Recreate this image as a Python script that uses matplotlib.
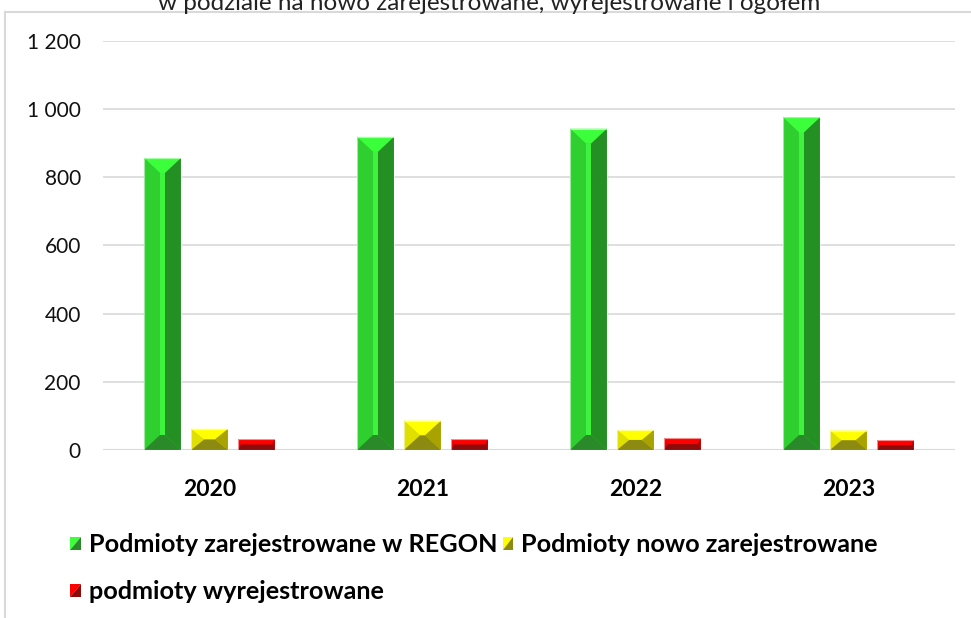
import numpy as np
import matplotlib
matplotlib.use("Agg")
import matplotlib.pyplot as plt
from matplotlib.patches import Polygon, Rectangle
from matplotlib.lines import Line2D
from matplotlib.legend_handler import HandlerBase
from matplotlib.ticker import FuncFormatter, MultipleLocator

# data
years = ["2020", "2021", "2022", "2023"]
regon = [856, 918, 942, 975]
nowe = [62, 86, 59, 57]
wyrej = [32, 32, 34, 29]

series_names = ["Podmioty zarejestrowane w REGON", "Podmioty nowo zarejestrowane",
                "podmioty wyrejestrowane"]
title = "w podziale na nowo zarejestrowane, wyrejestrowane i ogółem"

# bevel colours: top, left, right, bottom, inner
shades = [
    ("#3cff3c", "#2ecf2e", "#249024", "#2a8a2a", "#3ef23e"),
    ("#ffff00", "#e0e000", "#a9a300", "#8c8a10", "#c8c800"),
    ("#ff0000", "#e80000", "#b40000", "#8c0c0c", "#d00000"),
]

plt.rcParams["font.family"] = ["Lato", "DejaVu Sans"]

W, H = 971, 618
fig = plt.figure(figsize=(W / 100, H / 100), dpi=100)
ax = fig.add_axes([103 / W, 1 - 450 / H, 852 / W, 409.3 / H])

x = np.arange(len(years))
step = 47 / 213
bw = 37 / 213
groups = []
for i, vals in enumerate([regon, nowe, wyrej]):
    bars = ax.bar(x + (i - 1) * step, vals, width=bw, color=shades[i][1],
                  edgecolor="none", zorder=2)
    groups.append(bars)

ax.set_xlim(-0.5, len(years) - 0.5)
ax.set_ylim(0, 1200)
ax.yaxis.set_major_locator(MultipleLocator(200))
ax.yaxis.set_major_formatter(FuncFormatter(lambda v, p: f"{int(v):,}".replace(",", " ")))
ax.grid(axis="y", color="#d9d9d9", linewidth=1.2, zorder=0)
ax.set_axisbelow(True)
for s in ax.spines.values():
    s.set_visible(False)
ax.tick_params(axis="y", length=0, pad=16, labelsize=15, labelcolor="#111111")
ax.tick_params(axis="x", length=0, pad=21, labelsize=16.5)
ax.set_xticks(x)
ax.set_xticklabels(years, fontweight="bold")
ax.axhline(0, color="#d9d9d9", linewidth=1.5, zorder=1)

# bevel faces on each bar, sizes in pixels
sx = 213.0  # px per x unit
sy = 409.3 / 1200  # px per y unit
for i, bars in enumerate(groups):
    top, left, right, bottom, inner = shades[i]
    for b in bars:
        x0, y0 = b.get_x(), b.get_y()
        w, h = b.get_width(), b.get_height()
        x1, y1 = x0 + w, y0 + h
        hp = h * sy
        bx = np.clip(hp - 8, 3, 16) / sx
        by = min(15, hp / 2) / sy
        ix0, ix1, iy0, iy1 = x0 + bx, x1 - bx, y0 + by, y1 - by
        faces = [
            (inner, [(ix0, iy0), (ix1, iy0), (ix1, iy1), (ix0, iy1)]),
            (top, [(x0, y1), (x1, y1), (ix1, iy1), (ix0, iy1)]),
            (left, [(x0, y0), (x0, y1), (ix0, iy1), (ix0, iy0)]),
            (right, [(x1, y0), (x1, y1), (ix1, iy1), (ix1, iy0)]),
            (bottom, [(x0, y0), (x1, y0), (ix1, iy0), (ix0, iy0)]),
        ]
        for c, pts in faces:
            ax.add_patch(Polygon(pts, closed=True, facecolor=c, edgecolor="none", zorder=3))
        ax.add_patch(Rectangle((x0, y0), w, h, fill=False, edgecolor=(1, 1, 1, 0.55),
                               linewidth=0.8, zorder=4))


class DiagHandler(HandlerBase):
    def __init__(self, light, dark):
        super().__init__()
        self.light, self.dark = light, dark

    def create_artists(self, legend, orig_handle, xdescent, ydescent, width, height,
                       fontsize, trans):
        s = 10.5 * 72 / 100
        hh = 13 * 72 / 100
        cx = -xdescent + width / 2
        cy = -ydescent + height / 2
        a, b_ = cx - s / 2, cx + s / 2
        c, d = cy - hh / 2, cy + hh / 2
        p1 = Polygon([(a, c), (a, d), (b_, d)], closed=True, facecolor=self.light,
                     edgecolor="none", transform=trans)
        p2 = Polygon([(a, c), (b_, c), (b_, d)], closed=True, facecolor=self.dark,
                     edgecolor="none", transform=trans)
        return [p1, p2]


handles = [Line2D([], []) for _ in series_names]
hmap = {handles[0]: DiagHandler("#3cff3c", "#2a8a2a"),
        handles[1]: DiagHandler("#ffff00", "#8c8a10"),
        handles[2]: DiagHandler("#ff0000", "#8c0c0c")}
# legend fills column by column, so reorder to get the row layout of the reference
order = [0, 2, 1]
leg = fig.legend([handles[k] for k in order], [series_names[k] for k in order],
                 handler_map=hmap, ncol=2,
                 loc="upper left", bbox_to_anchor=(70 / W, 1 - 533 / H),
                 frameon=False, borderpad=0, borderaxespad=0,
                 prop={"weight": "bold", "size": 18.2},
                 handlelength=0.45, handleheight=0.7, handletextpad=0.3,
                 columnspacing=0.2, labelspacing=0.95)

# chart frame (partly outside the crop)
fig.add_artist(Line2D([5 / W, 5 / W], [0, 1 - 12 / H], color="#d9d9d9", linewidth=1.5,
                      transform=fig.transFigure))
fig.add_artist(Line2D([5 / W, 1], [1 - 12 / H, 1 - 12 / H], color="#d9d9d9", linewidth=1.5,
                      transform=fig.transFigure))

fig.text(489 / W, 1 - 4 / H, title, ha="center", va="center", fontsize=17.5, color="#222222")

fig.savefig("out.png", dpi=100)
